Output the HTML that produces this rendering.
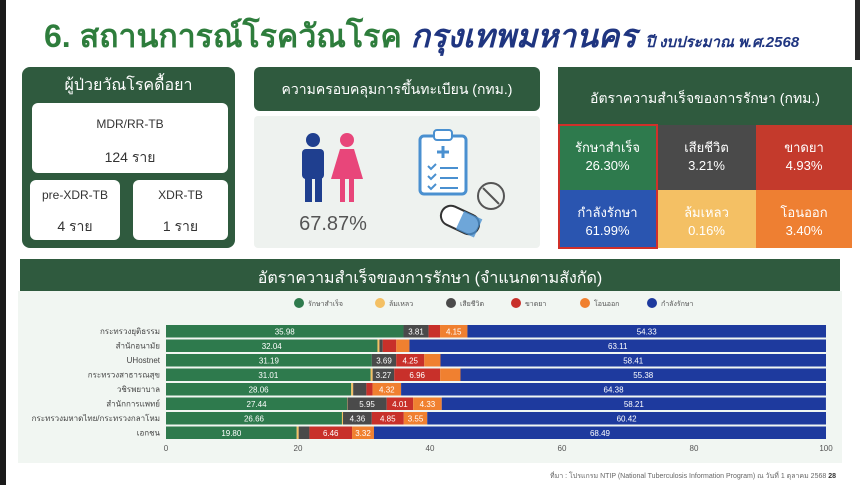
<!DOCTYPE html>
<html><head><meta charset="utf-8"><style>
*{margin:0;padding:0;box-sizing:border-box}
body{width:860px;height:485px;background:#fff;position:relative;overflow:hidden;font-family:"Liberation Sans",sans-serif}
.a{position:absolute}
.dg{background:#2f5a3e}
.wt{color:#fff;text-align:center}
.box{background:#fff;border-radius:6px;position:absolute;color:#333;text-align:center}
.cell{position:absolute;color:#fff;text-align:center;font-size:13px;line-height:18px;padding-top:14px}
</style></head><body>
<div class="a" style="left:0;top:0;width:6px;height:485px;background:#1a1a1a"></div>
<div class="a" style="left:855px;top:0;width:5px;height:60px;background:#2a2a2a"></div>
<div class="a" style="left:44px;top:11px;font-size:32px;font-weight:bold;color:#2e7d3c;white-space:nowrap">6. สถานการณ์โรควัณโรค <span style="color:#1f3580;font-style:italic">กรุงเทพมหานคร</span> <span style="color:#1f3580;font-style:italic;font-size:15px">ปี งบประมาณ พ.ศ.2568</span></div>

<div class="a dg" style="left:22px;top:67px;width:213px;height:181px;border-radius:8px"></div>
<div class="a wt" style="left:22px;top:73px;width:213px;font-size:16px">ผู้ป่วยวัณโรคดื้อยา</div>
<div class="box" style="left:32px;top:103px;width:196px;height:70px"><div style="font-size:12px;margin-top:14px">MDR/RR-TB</div><div style="font-size:14px;margin-top:16px">124 ราย</div></div>
<div class="box" style="left:30px;top:180px;width:90px;height:60px"><div style="font-size:12px;margin-top:8px">pre-XDR-TB</div><div style="font-size:14px;margin-top:14px">4 ราย</div></div>
<div class="box" style="left:133px;top:180px;width:95px;height:60px"><div style="font-size:12px;margin-top:8px">XDR-TB</div><div style="font-size:14px;margin-top:14px">1 ราย</div></div>

<div class="a dg" style="left:254px;top:67px;width:286px;height:44px;border-radius:6px"></div>
<div class="a wt" style="left:254px;top:79px;width:286px;font-size:14px">ความครอบคลุมการขึ้นทะเบียน (กทม.)</div>
<div class="a" style="left:254px;top:116px;width:286px;height:132px;background:#eef2ef;border-radius:4px"></div>
<svg class="a" style="left:254px;top:116px" width="286" height="132">
<circle cx="59" cy="24" r="7" fill="#1f3f8f"/><rect x="48" y="33" width="22" height="30" rx="4" fill="#1f3f8f"/><rect x="51" y="60" width="7" height="26" fill="#1f3f8f"/><rect x="61" y="60" width="7" height="26" fill="#1f3f8f"/>
<circle cx="93" cy="24" r="7" fill="#e8467a"/><path d="M86 33h14l9 30h-32z" fill="#e8467a"/><rect x="86" y="62" width="5" height="24" fill="#e8467a"/><rect x="95" y="62" width="5" height="24" fill="#e8467a"/>
<text x="79" y="114" font-size="20" fill="#555" text-anchor="middle" font-family="Liberation Sans">67.87%</text>
<rect x="166" y="20" width="46" height="58" rx="4" fill="#fff" stroke="#4a90d0" stroke-width="3"/><rect x="180" y="14" width="18" height="10" rx="3" fill="#fff" stroke="#4a90d0" stroke-width="2"/>
<path d="M189 30v12M183 36h12" stroke="#4a90d0" stroke-width="3"/>
<path d="M174 50l3 3 5-5M174 60l3 3 5-5M174 70l3 3 5-5M186 52h18M186 62h18M186 72h18" stroke="#4a90d0" stroke-width="2" fill="none"/>
<circle cx="237" cy="80" r="13" fill="none" stroke="#555" stroke-width="2"/><path d="M229 72l16 16" stroke="#555" stroke-width="2"/>
<rect x="186" y="94" width="40" height="20" rx="10" fill="#fff" stroke="#333" stroke-width="2" transform="rotate(25 206 104)"/><path d="M206 94h20v20h-20z" fill="#4a90d0" transform="rotate(25 206 104)" opacity=".8"/>
</svg>

<div class="a dg" style="left:558px;top:67px;width:294px;height:58px"></div>
<div class="a wt" style="left:558px;top:88px;width:294px;font-size:14px">อัตราความสำเร็จของการรักษา (กทม.)</div>
<div class="cell" style="left:558px;top:125px;width:99px;height:65px;background:#2e7a4d">รักษาสำเร็จ<br>26.30%</div>
<div class="cell" style="left:657px;top:125px;width:99px;height:65px;background:#4a4a4a">เสียชีวิต<br>3.21%</div>
<div class="cell" style="left:756px;top:125px;width:96px;height:65px;background:#c43a2c">ขาดยา<br>4.93%</div>
<div class="cell" style="left:558px;top:190px;width:99px;height:58px;background:#2a55b0">กำลังรักษา<br>61.99%</div>
<div class="cell" style="left:657px;top:190px;width:99px;height:58px;background:#f4c064">ล้มเหลว<br>0.16%</div>
<div class="cell" style="left:756px;top:190px;width:96px;height:58px;background:#ee7f32">โอนออก<br>3.40%</div>
<div class="a" style="left:558px;top:124px;width:100px;height:125px;border:2px solid #d0302a"></div>

<div class="a dg" style="left:20px;top:259px;width:820px;height:32px"></div>
<div class="a wt" style="left:20px;top:266px;width:820px;font-size:16px">อัตราความสำเร็จของการรักษา (จำแนกตามสังกัด)</div>
<div class="a" style="left:18px;top:291px;width:824px;height:172px;background:#f1f6f2"></div>
<svg class="a" style="left:0;top:291px" width="860" height="194" font-family="Liberation Sans">
<g font-size="7" fill="#555">
<circle cx="299" cy="12" r="5" fill="#2e7a4d"/><text x="308" y="15">รักษาสำเร็จ</text>
<circle cx="380" cy="12" r="5" fill="#f4c064"/><text x="389" y="15">ล้มเหลว</text>
<circle cx="451" cy="12" r="5" fill="#4a4a4a"/><text x="460" y="15">เสียชีวิต</text>
<circle cx="516" cy="12" r="5" fill="#c8302a"/><text x="525" y="15">ขาดยา</text>
<circle cx="585" cy="12" r="5" fill="#f08030"/><text x="594" y="15">โอนออก</text>
<circle cx="652" cy="12" r="5" fill="#1e3a9e"/><text x="661" y="15">กำลังรักษา</text>
</g>
<g id="bars"></g>
<g font-size="8" fill="#555" text-anchor="middle"><text x="166" y="160">0</text><text x="298" y="160">20</text><text x="430" y="160">40</text><text x="562" y="160">60</text><text x="694" y="160">80</text><text x="826" y="160">100</text></g>
<text x="836" y="187" font-size="7" fill="#666" text-anchor="end">ที่มา : โปรแกรม NTIP (National Tuberculosis Information Program) ณ วันที่ 1 ตุลาคม 2568 <tspan font-weight="bold" fill="#333"> 28</tspan></text>
</svg>
<script>
var rows=[["กระทรวงยุติธรรม",[35.98,0,3.81,1.73,4.15,54.33],[1,0,1,0,1,1]],
["สำนักอนามัย",[32.04,0.3,0.5,2.05,2.0,63.11],[1,0,0,0,0,1]],
["UHostnet",[31.19,0,3.69,4.25,2.46,58.41],[1,0,1,1,0,1]],
["กระทรวงสาธารณสุข",[31.01,0.3,3.27,6.96,3.08,55.38],[1,0,1,1,0,1]],
["วชิรพยาบาล",[28.06,0.3,2.0,0.94,4.32,64.38],[1,0,0,0,1,1]],
["สำนักการแพทย์",[27.44,0.05,5.95,4.01,4.33,58.21],[1,0,1,1,1,1]],
["กระทรวงมหาดไทย/กระทรวงกลาโหม",[26.66,0.16,4.36,4.85,3.55,60.42],[1,0,1,1,1,1]],
["เอกชน",[19.8,0.3,1.63,6.46,3.32,68.49],[1,0,0,1,1,1]]];
var cols=["#2e7a4d","#f4c064","#4a4a4a","#c8302a","#f08030","#1e3a9e"];
var s="";rows.forEach(function(r,i){var y=34+i*14.5,x=166;
s+='<text x="160" y="'+(y+9)+'" font-size="8" fill="#444" text-anchor="end">'+r[0]+'</text>';
r[1].forEach(function(v,j){var w=v*6.6;s+='<rect x="'+x+'" y="'+y+'" width="'+w+'" height="12.5" fill="'+cols[j]+'"/>';
if(r[2][j])s+='<text x="'+(x+w/2)+'" y="'+(y+9.5)+'" font-size="8" fill="#fff" text-anchor="middle">'+v.toFixed(2)+'</text>';x+=w;});});
document.getElementById("bars").innerHTML=s;
</script>
</body></html>
